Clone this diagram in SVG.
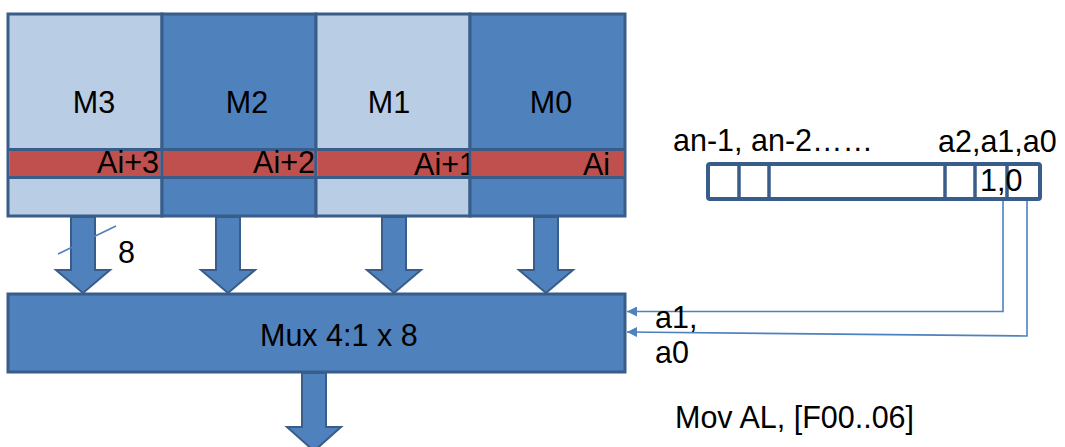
<svg xmlns="http://www.w3.org/2000/svg" width="1065" height="447" viewBox="0 0 1065 447">
  <style>
    .t { font-family: "Liberation Sans", Arial, sans-serif; font-size: 30.5px; fill: #000; }
    .m { text-anchor: middle; }
    .e { text-anchor: end; }
    .light { fill: #b9cde5; stroke: #385d8a; stroke-width: 3; }
    .dark { fill: #4f81bd; stroke: #385d8a; stroke-width: 3; }
    .band { fill: #c0504d; }
    .bline { stroke: #385d8a; stroke-width: 3; }
    .barrow { fill: #4f81bd; stroke: #385d8a; stroke-width: 2; }
    .wire { fill: none; stroke: #4f81bd; stroke-width: 1.6; }
    .cell { fill: #fff; stroke: #385d8a; stroke-width: 4; }
    .div { stroke: #385d8a; stroke-width: 3.5; }
  </style>
  <defs>
    <marker id="ah" markerUnits="userSpaceOnUse" markerWidth="10" markerHeight="10" refX="10" refY="5" orient="auto">
      <path d="M0,0 L10,5 L0,10 Z" fill="#4f81bd"/>
    </marker>
  </defs>
  <rect width="1065" height="447" fill="#fff"/>

  <g id="M3">
    <rect class="light" x="8" y="14" width="154" height="202"/>
    <rect class="band" x="9.5" y="151" width="151" height="25"/>
    <line class="bline" x1="8" y1="149.5" x2="162" y2="149.5"/>
    <line class="bline" x1="8" y1="177.5" x2="162" y2="177.5"/>
    <text class="t m" x="94" y="113">M3</text>
    <text class="t e" x="159" y="173">Ai+3</text>
  </g>
  <g id="M2">
    <rect class="dark" x="162" y="14" width="154" height="202"/>
    <rect class="band" x="163.5" y="151" width="151" height="25"/>
    <line class="bline" x1="162" y1="149.5" x2="316" y2="149.5"/>
    <line class="bline" x1="162" y1="177.5" x2="316" y2="177.5"/>
    <text class="t m" x="247" y="113">M2</text>
    <text class="t e" x="315" y="173">Ai+2</text>
  </g>
  <g id="M1">
    <rect class="light" x="316" y="14" width="154" height="202"/>
    <rect class="band" x="317.5" y="151" width="151" height="25"/>
    <line class="bline" x1="316" y1="149.5" x2="470" y2="149.5"/>
    <line class="bline" x1="316" y1="177.5" x2="470" y2="177.5"/>
    <text class="t m" x="389" y="113">M1</text>
    <text class="t e" x="476" y="175">Ai+1</text>
  </g>
  <g id="M0">
    <rect class="dark" x="470" y="14" width="155" height="202"/>
    <rect class="band" x="471.5" y="151" width="152" height="25"/>
    <line class="bline" x1="470" y1="149.5" x2="625" y2="149.5"/>
    <line class="bline" x1="470" y1="177.5" x2="625" y2="177.5"/>
    <text class="t m" x="551" y="113">M0</text>
    <text class="t e" x="610" y="175">Ai</text>
  </g>

  <g id="mux">
    <rect class="dark" x="8" y="294" width="617" height="78"/>
    <text class="t" x="260" y="346">Mux 4:1 x 8</text>
  </g>

  <g id="register">
    <rect class="cell" x="708" y="164" width="332" height="35" rx="2"/>
    <line class="div" x1="739" y1="164" x2="739" y2="199"/>
    <line class="div" x1="769" y1="164" x2="769" y2="199"/>
    <line class="div" x1="945" y1="164" x2="945" y2="199"/>
    <line class="div" x1="975" y1="164" x2="975" y2="199"/>
    <line class="div" x1="1007" y1="164" x2="1007" y2="199"/>
    <text class="t" x="980" y="191">1,0</text>
    <text class="t" x="673" y="151">an-1, an-2……</text>
    <text class="t" x="938" y="152">a2,a1,a0</text>
  </g>

  <g id="connectors">
    <path class="barrow" d="M71,217 V270 H56 L83,293 L110,270 H95 V217 Z"/>
    <path class="barrow" d="M216,217 V270 H201 L228,293 L255,270 H240 V217 Z"/>
    <path class="barrow" d="M382,217 V270 H367 L394,293 L421,270 H406 V217 Z"/>
    <path class="barrow" d="M534,217 V270 H519 L546,293 L573,270 H558 V217 Z"/>
    <path class="barrow" d="M302,373 V427 H287 L314,451 L341,427 H326 V373 Z"/>
    <line class="wire" x1="58" y1="254" x2="116" y2="226"/>
    <path class="wire" d="M1003,201 V311.5 H627" marker-end="url(#ah)"/>
    <path class="wire" d="M1027,201 V336 L627,332" marker-end="url(#ah)"/>
  </g>

  <g id="labels">
    <text class="t" x="118" y="263">8</text>
    <text class="t" x="655" y="328">a1,</text>
    <text class="t" x="655" y="363">a0</text>
    <text class="t" x="675" y="428">Mov AL, [F00..06]</text>
  </g>
</svg>
